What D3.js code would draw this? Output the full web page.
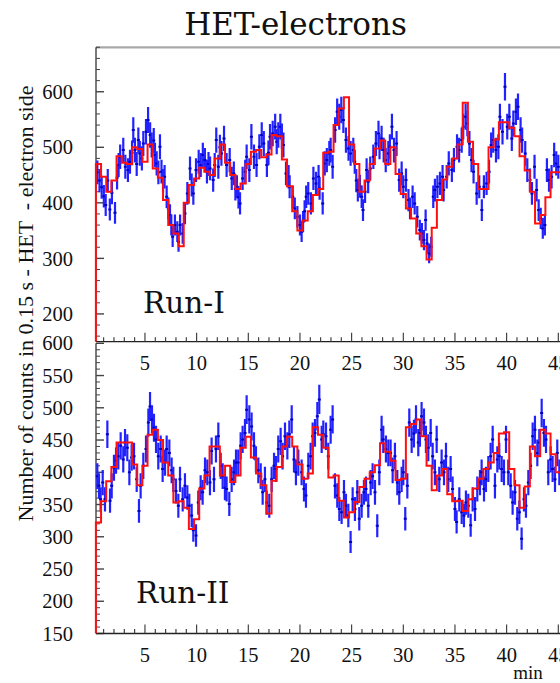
<!DOCTYPE html>
<html><head><meta charset="utf-8">
<script src="https://cdn.jsdelivr.net/npm/d3@7/dist/d3.min.js"></script>
<style>html,body{margin:0;padding:0;background:#fff}svg{display:block}</style>
</head><body>
<script>
// ---------------- data ----------------
const title = "HET-electrons";
const yTitle = "Number of counts in 0.15 s - HET  - electron side";
const xTitle = "min";
const runLabels = ["Run-I", "Run-II"];
const xMajorTicks = [5, 10, 15, 20, 25, 30, 35, 40, 45];
const run1YTicks = [200, 300, 400, 500, 600];
const run2YTicks = [150, 200, 250, 300, 350, 400, 450, 500, 550, 600];

// model histogram (red), 0.5 min bins starting at 0.25 min
const modelBinStart = 0.25;
const modelBinWidth = 0.5;
const run1Model = [470,447,420,440,484,472,470,500,497,474,
  505,462,445,405,360,345,322,400,432,444,
  463,456,450,480,505,472,450,425,435,470,
  492,495,482,487,522,520,478,430,385,350,
  368,385,414,425,490,492,540,570,590,505,
  470,420,440,470,498,512,470,500,452,416,
  390,372,345,322,298,355,405,442,465,480,
  505,580,510,470,425,425,500,514,545,545,
  535,520,484,458,420,363,378,410,455,455,460];
const run2Model = [322,355,386,408,446,446,446,412,380,410,
  458,466,450,415,395,353,355,345,312,327,
  375,395,440,440,395,410,385,395,438,455,
  423,398,380,336,387,408,440,455,440,412,
  390,398,470,458,438,392,395,356,330,338,
  354,377,390,400,411,445,432,418,388,390,
  470,475,482,456,410,372,395,405,366,355,
  356,340,358,375,390,405,415,430,460,462,
  405,380,345,378,440,425,466,460,428,400,394];

// measured points (blue): time in min, counts
const run1Time = [0.39,0.6,0.81,1.02,1.2,1.4,1.6,1.8,2.1,2.3,2.45,2.6,2.9,3.1,3.35,3.55,3.75,3.87,4.03,4.2,
  4.36,4.5,4.7,4.84,5.1,5.3,5.5,5.65,5.85,5.97,6.13,6.3,6.45,6.6,6.75,6.9,7.1,7.26,7.42,7.55,
  7.68,7.9,8.13,8.25,8.4,8.65,8.87,9.1,9.36,9.52,9.68,9.94,10.2,10.4,10.6,10.8,11.0,11.15,11.3,11.6,
  11.75,11.9,12.1,12.25,12.4,12.65,12.9,13.2,13.4,13.6,13.75,13.9,14.05,14.2,14.45,14.7,14.84,15.1,15.3,15.55,
  15.8,16.07,16.3,16.5,16.8,16.95,17.1,17.36,17.6,17.75,17.9,18.1,18.25,18.4,18.65,18.9,19.0,19.3,19.5,19.75,
  20.0,20.16,20.3,20.45,20.6,20.8,21.06,21.3,21.55,21.8,21.9,22.2,22.4,22.6,22.84,22.97,23.16,23.4,23.6,23.8,
  24.0,24.2,24.45,24.7,24.9,25.16,25.3,25.45,25.6,25.8,25.97,26.1,26.3,26.45,26.6,26.8,27.1,27.35,27.6,27.7,
  27.9,28.1,28.3,28.55,28.7,28.9,29.1,29.35,29.6,29.84,30.0,30.26,30.5,30.65,30.9,31.1,31.35,31.6,31.8,32.0,
  32.16,32.3,32.5,32.7,32.9,33.06,33.3,33.55,33.8,33.9,34.2,34.4,34.7,34.9,35.2,35.4,35.65,35.8,36.03,36.2,
  36.4,36.6,36.8,37.1,37.35,37.6,37.8,38.06,38.3,38.5,38.7,38.97,39.2,39.35,39.6,39.84,40.06,40.26,40.5,40.65,
  40.9,41.1,41.35,41.5,41.8,42.0,42.26,42.45,42.7,42.9,43.1,43.3,43.5,43.7,43.9,44.1,44.35,44.6,44.8,45.0];
const run1Counts = [455,440,428,412,396,440,388,418,382,445,468,483,495,465,459,474,490,531,495,470,
  513,489,480,507,528,549,522,504,512,486,471,455,501,456,440,447,411,390,378,360,
  339,360,348,330,360,345,381,417,462,432,417,459,474,468,486,477,456,470,462,441,
  468,513,465,500,489,516,468,477,444,453,425,429,410,399,444,456,483,459,519,483,
  468,501,522,507,468,490,519,525,537,510,522,537,520,504,453,447,429,411,390,375,
  360,348,366,385,411,417,399,444,435,447,426,399,471,477,489,495,465,531,564,555,
  567,549,513,498,489,495,474,440,423,430,411,387,420,459,438,462,483,507,525,501,
  516,495,477,489,501,537,495,507,441,453,429,441,405,390,411,399,375,351,345,333,
  369,327,309,321,411,423,429,435,447,423,447,471,459,477,501,495,513,537,555,543,
  507,477,456,417,429,387,429,435,456,504,513,495,501,555,528,609,537,555,516,543,
  564,573,531,513,489,459,441,417,465,423,387,372,354,360,459,441,447,486,471,465];

const run2Time = [0.39,0.55,0.71,0.91,1.13,1.36,1.62,1.78,2.0,2.2,2.42,2.65,2.9,3.07,3.29,3.49,3.71,3.94,4.2,4.42,
  4.58,4.84,5.1,5.33,5.49,5.68,5.87,6.07,6.29,6.52,6.71,6.94,7.1,7.36,7.58,7.74,8.0,8.23,8.39,8.65,
  8.87,9.1,9.29,9.52,9.68,9.94,10.16,10.39,10.58,10.81,11.03,11.29,11.45,11.68,11.87,12.1,12.33,12.52,12.74,12.9,
  13.16,13.39,13.62,13.81,14.03,14.26,14.45,14.68,14.84,15.1,15.32,15.55,15.74,15.97,16.2,16.39,16.61,16.78,17.03,17.26,
  17.49,17.68,17.9,18.13,18.32,18.55,18.78,18.97,19.2,19.42,19.61,19.84,20.16,20.39,20.58,20.81,21.03,21.23,21.45,21.68,
  21.87,22.1,22.26,22.52,22.74,22.97,23.16,23.39,23.61,23.81,24.03,24.26,24.45,24.68,24.9,25.1,25.32,25.55,25.74,25.97,
  26.19,26.39,26.61,26.84,27.03,27.26,27.48,27.68,27.9,28.06,28.32,28.55,28.77,28.97,29.19,29.42,29.61,29.84,30.0,30.19,
  30.39,30.58,30.81,31.03,31.23,31.45,31.61,31.77,32.0,32.19,32.42,32.65,32.84,33.06,33.23,33.48,33.71,33.94,34.13,34.35,
  34.58,34.77,35.0,35.16,35.42,35.65,35.87,36.06,36.29,36.52,36.71,36.94,37.16,37.42,37.58,37.81,38.0,38.23,38.45,38.65,
  38.87,39.1,39.29,39.52,39.74,39.94,40.16,40.39,40.58,40.81,41.03,41.23,41.45,41.68,41.87,42.1,42.32,42.52,42.74,42.97,
  43.16,43.39,43.61,43.81,44.03,44.26,44.45,44.68,44.9,45.1];
const run2Counts = [394,379,358,384,358,459,356,379,407,418,425,441,420,446,438,400,423,425,389,340,
  379,410,436,477,502,482,469,451,425,436,405,415,436,430,403,389,371,348,389,358,
  379,361,348,333,310,302,353,376,369,403,400,384,433,389,436,456,410,394,376,374,
  351,389,400,415,415,441,451,461,497,482,471,441,420,403,394,369,389,353,348,389,
  410,405,436,448,425,456,441,459,482,420,400,415,400,374,364,410,425,456,461,487,
  513,451,459,456,425,466,482,379,364,343,338,369,348,333,292,358,343,369,328,348,
  369,374,348,384,394,369,317,400,466,451,436,430,430,403,425,384,369,389,400,328,
  379,477,451,460,482,446,461,487,477,451,438,461,425,400,451,389,415,400,425,389,
  405,374,343,323,358,338,333,353,348,318,358,343,374,384,400,374,389,405,425,451,
  379,420,425,405,400,451,400,379,353,369,328,338,297,358,348,384,410,456,466,430,
  446,492,461,451,400,420,405,389,430,400];

// ---------------- drawing ----------------
const W = 560, H = 683;
const svg = d3.select("body").append("svg").attr("width", W).attr("height", H);

const x = d3.scaleLinear().domain([0, 45]).range([93.3, 558.3]);
const xLeft = 96;

const panels = [
  {model: run1Model, time: run1Time, counts: run1Counts, yDomain: [150, 680], yRange: [341.7, 47.3],
   yTicks: run1YTicks, minorStep: 20, label: runLabels[0], labelX: 143, labelY: 313},
  {model: run2Model, time: run2Time, counts: run2Counts, yDomain: [150, 600], yRange: [633.5, 343.3],
   yTicks: run2YTicks, minorStep: 10, label: runLabels[1], labelX: 136, labelY: 603}
];

const serif = "'Liberation Serif', 'Times New Roman', serif";
const slab = "'DejaVu Serif', serif";

svg.append("text").attr("x", 295.5).attr("y", 35).attr("text-anchor", "middle")
  .attr("font-family", slab).attr("font-size", 31).attr("fill", "#111").text(title);

panels.forEach((p, pi) => {
  const y = d3.scaleLinear().domain(p.yDomain).range(p.yRange);
  const g = svg.append("g");
  const clipId = "clip" + pi;
  svg.append("clipPath").attr("id", clipId).append("rect")
    .attr("x", xLeft - 2).attr("y", p.yRange[1]).attr("width", W).attr("height", p.yRange[0] - p.yRange[1]);

  if (pi === 0) {
    g.append("line").attr("x1", xLeft).attr("x2", W).attr("y1", p.yRange[1]).attr("y2", p.yRange[1])
      .attr("stroke", "#a8a8a8").attr("stroke-width", 2.2);
  }

  g.append("line").attr("x1", xLeft).attr("x2", xLeft).attr("y1", p.yRange[1]).attr("y2", p.yRange[0])
    .attr("stroke", "#222").attr("stroke-width", 1.2);
  const yMin = Math.ceil(p.yDomain[0] / p.minorStep) * p.minorStep;
  for (let v = yMin; v <= p.yDomain[1]; v += p.minorStep) {
    const major = p.yTicks.includes(v);
    g.append("line").attr("x1", xLeft).attr("x2", xLeft + (major ? 8 : 4))
      .attr("y1", y(v)).attr("y2", y(v)).attr("stroke", "#444").attr("stroke-width", major ? 1.4 : 1);
  }
  p.yTicks.forEach(v => {
    g.append("text").attr("x", 73).attr("y", y(v)).attr("dy", "0.35em").attr("text-anchor", "end")
      .attr("font-family", serif).attr("font-size", 20.5).attr("fill", "#111").text(v);
  });

  const yb = p.yRange[0];
  g.append("line").attr("x1", xLeft).attr("x2", W).attr("y1", yb).attr("y2", yb)
    .attr("stroke", "#222").attr("stroke-width", 1.3);
  d3.range(1, 46).forEach(t => {
    const major = xMajorTicks.includes(t);
    g.append("line").attr("x1", x(t)).attr("x2", x(t)).attr("y1", yb).attr("y2", yb - (major ? 9 : 4.5))
      .attr("stroke", "#333").attr("stroke-width", 1.1);
  });

  const dg = g.append("g").attr("clip-path", `url(#${clipId})`);
  p.time.forEach((t, i) => {
    const v = p.counts[i];
    const e = Math.sqrt(v);
    dg.append("line").attr("x1", x(t)).attr("x2", x(t)).attr("y1", y(v - e)).attr("y2", y(v + e))
      .attr("stroke", "#2222ff").attr("stroke-width", 2.2);
    dg.append("line").attr("x1", x(t)).attr("x2", x(t)).attr("y1", y(v) - 1).attr("y2", y(v) + 1)
      .attr("stroke", "#0000c0").attr("stroke-width", 3);
  });

  const pts = [[modelBinStart, p.yDomain[0]]];
  p.model.forEach((v, i) => pts.push([modelBinStart + i * modelBinWidth, v]));
  pts.push([modelBinStart + p.model.length * modelBinWidth, p.model[p.model.length - 1]]);
  const line = d3.line().x(d => x(d[0])).y(d => y(d[1])).curve(d3.curveStepAfter);
  dg.append("path").attr("d", line(pts)).attr("fill", "none").attr("stroke", "#ff1010")
    .attr("stroke-width", 2).attr("stroke-linejoin", "miter");

  g.append("text").attr("x", p.labelX).attr("y", p.labelY).attr("font-family", slab)
    .attr("font-size", 29.5).attr("fill", "#111").text(p.label);
});

[370, 662].forEach(by => {
  xMajorTicks.forEach(t => {
    svg.append("text").attr("x", x(t)).attr("y", by).attr("text-anchor", "middle")
      .attr("font-family", serif).attr("font-size", 20.5).attr("fill", "#111").text(t);
  });
});
svg.append("text").attr("x", 528).attr("y", 678.5).attr("text-anchor", "middle")
  .attr("font-family", serif).attr("font-size", 19).attr("fill", "#111").text(xTitle);

svg.append("text").attr("transform", "translate(33,303.5) rotate(-90)").attr("text-anchor", "middle")
  .attr("font-family", serif).attr("font-size", 22).attr("fill", "#111")
  .style("white-space", "pre").text(yTitle);
</script>
</body></html>
